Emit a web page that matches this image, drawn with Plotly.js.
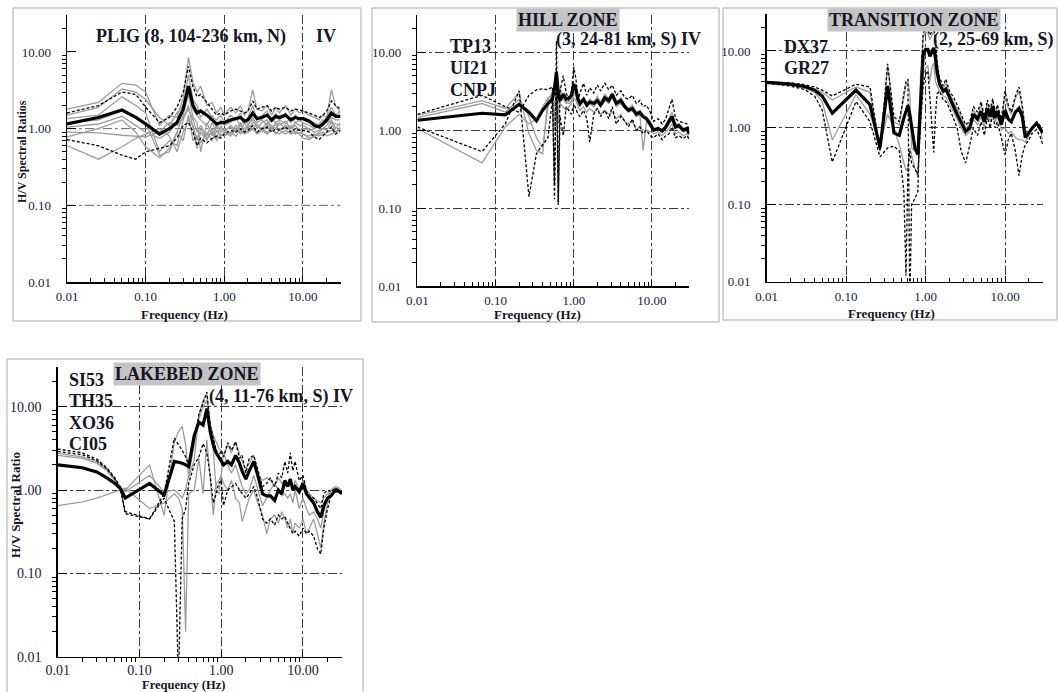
<!DOCTYPE html>
<html><head><meta charset="utf-8">
<script src="https://cdn.plot.ly/plotly-3.0.1.min.js"></script>
<style>html,body{margin:0;padding:0;background:#fff}#chart{width:1059px;height:692px}</style>
</head><body><div id="chart"></div><script>
// ---------------- DATA ----------------
// Panel 1: PLIG (8 events, 104-236 km, N)
const p1Freq = [0.01,0.025,0.05,0.075,0.1, 0.15,0.2,0.25,0.3,0.35, 0.4,0.45,0.5,0.6,0.7, 0.8,0.9,1.0,1.2,1.4, 1.6,1.8,2.0,2.3,2.6, 3.0,3.5,4.0,4.5,5, 6,7,8,9,10, 12,14,16,18,20, 23,26,30];
const p1Mean = [1.15,1.4,1.75,1.4,1.15, 0.85,1.0,1.2,1.8,3.6, 2.0,1.6,1.7,1.5,1.3, 1.15,1.2,1.2,1.3,1.35, 1.4,1.25,1.3,1.6,1.35, 1.4,1.5,1.3,1.45,1.4, 1.5,1.3,1.4,1.35,1.35, 1.25,1.1,1.05,1.15,1.3, 1.6,1.45,1.45];
const p1DashHi = [1.6,2.0,3.0,2.8,1.9, 1.2,1.4,1.9,3.0,6.5, 3.5,2.6,2.8,2.2,1.8, 1.5,1.6,1.5,1.7,1.8, 1.7,1.6,1.7,2.3,1.8, 1.9,2.0,1.7,1.9,1.8, 1.9,1.7,1.8,1.75,1.7, 1.6,1.5,1.4,1.5,1.7, 2.3,2.0,1.8];
const p1DashLo = [0.72,0.6,0.45,0.4,0.5, 0.55,0.6,0.75,1.1,1.2, 0.9,0.6,0.75,0.65,0.75, 0.8,0.75,0.85,0.95,0.9, 1.0,0.9,0.95,1.1,0.9, 1.0,1.05,0.9,1.0,0.95, 1.05,0.9,1.0,0.95,0.95, 0.9,0.78,0.72,0.8,0.9, 1.05,0.85,0.95];
const p1Gray1 = [1.8,2.2,3.9,3.7,3.0, 1.1,1.5,1.4,2.5,8.5, 4.0,3.0,3.6,2.0,2.2, 1.6,1.9,1.5,1.9,1.6, 2.0,1.5,1.7,3.2,1.8, 1.7,2.0,1.5,1.9,1.6, 2.0,1.5,1.8,1.6,1.7, 1.5,1.4,1.3,1.5,1.4, 3.2,2.0,1.6];
const p1Gray2 = [1.5,1.9,3.3,3.0,2.4, 1.4,1.1,1.6,2.0,5.0, 2.4,2.0,1.4,1.8,1.4, 1.3,1.5,1.2,1.5,1.3, 1.6,1.2,1.4,2.0,1.3, 1.5,1.7,1.2,1.6,1.3, 1.6,1.2,1.5,1.3,1.4, 1.3,1.2,1.1,1.2,1.4, 1.9,1.5,1.7];
const p1Gray3 = [1.35,1.5,2.6,2.0,1.6, 0.5,0.7,0.6,1.3,2.0, 1.0,0.55,0.9,0.7,1.0, 0.75,1.1,0.9,1.1,0.95, 1.2,0.9,1.1,1.4,1.0, 1.2,1.3,1.0,1.2,1.1, 1.25,1.0,1.2,1.1,1.1, 1.0,0.9,0.95,1.0,1.1, 1.3,1.0,1.2];
const p1Gray4 = [1.2,1.3,1.7,1.4,1.2, 0.45,0.5,0.9,1.5,2.8, 1.4,1.2,0.5,1.2,0.8, 1.1,0.9,1.0,0.85,1.1, 0.9,1.2,1.0,1.2,1.1, 1.0,1.2,1.1,1.0,1.2, 1.0,1.1,0.9,1.0,0.85, 0.75,0.8,0.9,1.0,0.95, 1.2,0.9,1.0];
const p1Gray5 = [1.05,1.15,1.45,1.1,0.9, 0.75,0.9,1.2,1.6,3.0, 1.8,1.5,1.3,1.1,1.5, 1.0,1.3,1.1,1.2,1.4, 1.1,1.3,1.15,1.3,1.2, 1.3,1.1,1.35,1.2,1.3, 1.15,1.4,1.2,1.3,1.2, 1.1,1.0,1.15,1.3,1.2, 1.4,1.3,1.3];
const p1Gray6 = [0.9,0.88,0.82,0.8,0.78, 0.9,1.2,1.1,1.4,1.8, 1.3,0.9,1.1,0.8,1.2, 0.9,1.0,0.95,1.05,0.9, 1.1,1.0,1.1,1.0,1.15, 0.95,1.1,1.0,1.15,0.95, 1.1,1.0,1.1,0.95,1.0, 0.95,1.0,1.1,1.2,1.25, 1.2,1.15,1.1];
const p1Gray7 = [0.78,1.0,1.3,0.9,0.58, 0.42,0.55,0.9,0.7,1.5, 0.7,0.8,0.65,0.9,0.7, 0.95,0.8,0.9,0.8,1.0, 0.85,0.95,0.9,1.0,0.85, 0.95,0.85,0.95,0.9,0.85, 0.95,0.85,0.9,0.85,0.75, 0.72,0.8,0.85,0.9,0.8, 0.85,0.9,1.0];
const p1Gray8 = [0.6,0.4,0.58,0.75,0.85, 1.0,0.8,0.5,0.9,1.3, 1.1,0.7,1.0,0.75,0.9, 0.7,0.85,0.8,0.9,0.8, 0.95,0.85,0.9,1.0,0.9, 1.0,0.9,1.0,0.85,0.95, 0.85,0.95,0.85,0.9,0.85, 0.8,0.85,0.8,0.85,0.9, 0.95,0.9,1.05];
const p1GridLevels = [1, 0.1];

// Panel 2: HILL ZONE (TP13, UI21, CNPJ)
const p2Freq = [0.01,0.067,0.133,0.2,0.267, 0.333,0.4,0.467,0.533,0.567, 0.6,0.633,0.667,0.733,0.8, 0.867,0.933,1.0,1.067,1.133, 1.2,1.333,1.467,1.6,1.8, 2.0,2.2,2.5,2.8,3.1, 3.5,4.0,4.5,5.0,5.6, 6.3,7.0,7.7,8.5,9.5, 10.5,12,13.5,15,16.5, 18,20,22,25,28, 30];
const p2Mean = [1.34,1.65,1.57,2.15,1.7, 1.32,1.8,2.2,2.5,3.5, 5.6,3.0,2.4,2.9,2.5, 2.6,2.8,3.9,3.3,2.5, 2.2,2.5,2.1,2.3,2.2, 2.4,2.1,2.6,2.4,2.9, 2.2,2.4,2.0,1.8,1.9, 1.6,1.7,1.5,1.4,1.2, 1.0,1.05,0.98,1.1,1.3, 1.5,1.1,1.15,1.0,1.05, 0.9];
const p2DashHi = [1.6,2.8,2.0,1.7,2.8, 3.3,3.4,3.3,3.6,0.13, 14,0.12,3.2,5.0,3.0, 2.4,3.0,6.5,4.5,2.4, 3.0,4.0,2.8,3.5,3.0, 3.8,3.2,4.0,3.3,3.8, 2.8,3.2,2.6,2.5,2.8, 2.2,2.4,2.0,2.1,1.7, 1.3,1.4,1.2,1.4,1.9, 2.5,1.4,1.3,1.25,1.2, 1.0];
const p2DashLo = [1.1,0.53,1.2,3.2,0.14, 0.5,0.65,0.8,2.5,0.2, 6.0,0.11,1.5,0.85,2.0, 1.8,1.6,2.2,1.9,1.6, 1.5,1.8,1.4,0.7,1.6, 1.9,1.5,1.8,1.4,2.0, 1.2,1.5,1.3,1.1,1.4, 1.0,1.1,0.9,1.0,0.85, 0.8,0.9,0.75,0.85,0.9, 1.1,0.8,0.85,0.78,0.85, 0.75];
const p2Gray1 = [1.55,2.4,1.9,3.0,0.9, 0.55,0.5,2.5,3.0,1.0, 4.5,1.2,3.5,2.5,2.2, 2.4,2.6,3.2,2.9,2.3, 2.0,2.6,2.2,2.5,2.3, 2.7,2.3,2.9,2.5,3.0, 2.3,2.6,2.1,1.9,2.1, 1.7,1.8,1.5,1.5,1.3, 1.05,1.1,1.0,1.15,1.4, 1.7,1.2,1.2,1.05,1.1, 0.95];
const p2Gray2 = [1.45,2.2,1.7,2.5,1.5, 0.8,0.6,2.0,3.2,2.0, 3.0,2.2,2.8,2.6,2.3, 2.2,2.4,3.0,2.7,2.2, 2.1,2.3,2.0,2.2,2.0, 2.3,2.0,2.4,2.2,2.6, 2.0,2.2,1.9,1.7,1.8, 1.5,1.6,0.55,1.3,1.1, 1.0,1.05,0.95,1.05,1.2, 1.35,1.05,1.1,0.95,1.0, 0.88];
const p2Gray3 = [1.05,0.38,1.1,1.6,1.2, 1.4,2.0,2.6,2.8,1.5, 2.5,1.8,2.2,2.0,1.8, 2.0,2.2,2.6,2.4,2.0, 1.8,2.0,1.7,1.9,1.7, 1.9,1.6,1.8,1.6,1.7, 1.4,1.6,1.3,1.2,1.3, 1.0,1.1,1.0,1.0,0.95, 0.9,0.95,0.85,0.95,1.05, 1.2,0.9,0.95,0.85,0.9, 0.8];

// Panel 3: TRANSITION ZONE (DX37, GR27)
const p3Freq = [0.01,0.02,0.03,0.04,0.05, 0.067,0.133,0.2,0.267,0.333, 0.4,0.467,0.533,0.567,0.6, 0.633,0.667,0.733,0.8,0.867, 0.933,1.0,1.067,1.133,1.2, 1.267,1.333,1.4,1.5,1.67, 1.8,2.0,2.2,2.5,2.8, 3.2,3.6,4.0,4.5,5.0, 5.5,6.0,6.5,7.0,7.5, 8.0,9.0,10,11,12, 13.5,15,16.5,18,20, 22,25,28,30];
const p3Mean = [3.9,3.7,3.45,3.1,2.6, 1.55,3.1,2.0,0.55,3.5, 0.86,0.8,1.35,1.7,1.95, 1.5,1.0,0.55,0.45,2.5, 9.0,10.5,10.5,8.5,10, 11,8.0,5.2,3.7,3.0, 3.2,2.45,2.0,1.5,1.2, 0.9,1.0,1.5,1.3,1.65, 1.2,1.8,1.4,1.9,1.35, 1.65,1.1,1.7,1.3,1.2, 1.6,1.8,1.4,0.75,0.86, 1.0,1.15,0.95,0.86];
const p3DashHi = [4.0,3.85,3.65,3.4,3.1, 2.6,3.7,3.4,0.5,6.8, 1.4,1.2,2.8,4.0,4.3, 0.005,0.1,0.12,0.15,3.0, 17,20,19,16,18, 20,15,7.0,4.5,3.5, 4.3,3.0,2.6,2.0,1.5, 1.1,1.2,1.9,1.6,2.2, 1.4,2.3,1.7,2.4,1.6, 2.0,1.3,3.0,2.0,1.6, 2.6,3.4,2.0,0.9,0.9, 1.0,1.2,1.05,1.05];
const p3DashLo = [3.8,3.5,3.15,2.6,1.7, 0.36,2.2,1.2,0.42,0.55, 0.58,0.5,0.15,0.012,0.3, 0.5,0.35,0.3,0.25,1.2, 3.5,5.0,5.5,2.5,0.9, 0.48,1.5,2.8,3.0,2.3, 2.2,1.8,1.4,1.0,0.5, 0.35,0.6,1.0,0.8,1.2, 0.8,1.4,1.0,1.5,1.0, 1.2,0.75,0.45,0.7,0.85, 0.5,0.24,0.45,0.6,0.7, 0.85,0.95,0.75,0.6];
const p3GrayHi = [3.95,3.75,3.5,3.2,2.9, 2.3,3.4,2.9,0.5,6.3, 1.2,1.1,2.5,3.6,4.0, 2.8,0.55,0.5,0.55,5.0, 15,18,17,14,16, 18,13,6.5,4.0,3.2, 3.8,2.8,2.3,1.8,1.4, 1.0,1.1,1.7,1.4,2.0, 1.3,2.1,1.6,2.2,1.5, 1.9,1.2,2.6,1.8,1.5, 2.4,3.0,1.8,0.85,0.88, 1.0,1.15,1.0,1.0];
const p3GrayLo = [3.85,3.6,3.3,2.9,2.2, 0.7,2.7,1.5,0.6,1.5, 1.0,0.6,0.35,0.28,0.3, 0.55,0.45,0.3,0.23,1.5, 5.0,6.0,6.5,4.0,6.0, 7.0,4.0,3.5,3.0,2.6, 2.5,2.0,1.7,1.3,1.0, 0.8,0.9,1.3,1.1,1.4, 1.0,1.6,1.2,1.7,1.2, 1.4,0.95,1.0,0.85,0.9, 0.75,0.7,0.7,0.65,0.8, 0.95,1.1,0.9,0.7];

// Panel 4: LAKEBED ZONE (SI53, TH35, XO36, CI05)
const p4Freq = [0.01,0.02,0.03,0.04,0.05, 0.058,0.067,0.133,0.2,0.267, 0.3,0.333,0.367,0.4,0.467, 0.533,0.6,0.667,0.733,0.8, 0.867,0.933,1.0,1.067,1.2, 1.333,1.5,1.67,1.8,2.0, 2.2,2.5,2.8,3.2,3.6, 4.0,4.5,5.0,5.5,6.0, 6.5,7.0,7.5,8.0,9.0, 10,11,12,13.5,15, 16.5,18,20,22,25, 28,30];
const p4Mean = [2.0,1.85,1.65,1.4,1.2, 1.05,0.8,1.2,0.87,2.2, 2.15,2.1,2.0,1.9,4.5, 6.5,6.0,9.5,5.0,3.5, 2.8,2.5,2.2,2.0,2.2, 2.0,2.6,2.1,1.7,1.35, 1.7,2.2,1.5,0.9,0.85, 0.85,0.75,1.0,0.9,1.3, 1.1,1.35,1.0,1.1,0.95, 1.2,0.9,0.8,0.7,0.55, 0.47,0.65,0.8,0.85,1.0, 0.95,0.9];
const p4DashHi = [3.1,2.8,2.35,1.85,1.4, 1.1,0.52,0.45,0.9,4.2, 3.5,3.0,2.5,2.0,4.0, 8.0,11,15,6.0,4.0, 3.0,2.5,3.0,2.5,3.7, 3.0,3.8,2.4,2.6,1.6, 2.4,2.6,1.8,1.1,1.2, 1.4,1.1,1.6,1.4,2.2, 1.6,2.8,1.7,2.2,1.3, 1.5,1.0,0.85,0.8,0.7, 0.6,0.9,1.0,0.95,1.05, 1.0,0.95];
const p4DashLo = [2.9,2.65,2.25,1.8,1.35, 1.05,0.55,0.45,0.8,0.42, 0.005,0.45,0.6,1.2,2.0, 2.5,3.6,2.8,1.5,0.7, 0.9,1.2,1.3,0.65,1.0, 1.1,1.2,1.0,0.9,0.8, 0.9,1.1,0.8,0.45,0.4, 0.45,0.38,0.5,0.45,0.48, 0.4,0.35,0.3,0.32,0.28, 0.35,0.3,0.32,0.28,0.2, 0.17,0.35,0.6,0.85,1.0, 0.95,0.9];
const p4Gray1 = [2.75,2.5,2.2,1.75,1.35, 1.05,1.0,2.0,0.5,3.8, 5.0,5.8,3.5,1.4,2.3, 8.0,12,14,6.0,4.5, 3.8,3.2,3.0,2.5,3.5, 2.8,3.8,2.8,2.2,1.8, 2.1,2.6,1.5,1.3,1.4, 1.3,1.1,1.4,1.2,1.3, 1.1,1.25,1.0,1.3,1.0, 1.3,1.0,0.9,0.8,0.75, 0.7,0.8,0.9,1.0,1.05, 1.0,0.95];
const p4Gray2 = [0.65,0.72,0.8,0.88,0.95, 1.0,1.05,0.6,0.7,0.9, 0.8,0.6,0.02,0.9,1.0, 2.4,0.9,4.0,1.5,0.5, 1.2,1.3,1.5,1.2,1.0, 1.3,0.8,0.7,0.42,0.6, 0.8,1.0,0.7,0.5,0.3, 0.45,0.5,0.4,0.55,0.45, 0.35,0.45,0.3,0.4,0.35, 0.45,0.3,0.35,0.45,0.3, 0.2,0.4,0.7,0.9,1.0, 1.0,0.9];
const p4Gray3 = [2.6,2.4,2.1,1.7,1.3, 1.05,0.95,1.5,0.95,1.0, 0.9,0.8,1.0,1.5,3.5, 7.0,10,12,5.0,3.0, 1.0,0.9,1.5,2.8,2.0, 1.6,2.0,1.4,1.1,0.9, 1.0,1.5,1.0,0.65,0.8, 1.0,1.2,1.0,0.85,0.9, 0.8,0.9,0.7,1.0,0.6, 0.8,0.6,0.5,0.55,0.45, 0.35,0.55,0.8,1.0,1.1, 1.05,0.95];

const tickVals = [0.01, 0.1, 1, 10];
const tickText = ['0.01', '0.10', '1.00', '10.00'];
const xTitle = 'Frequency (Hz)';

// ---------------- LAYOUT HELPERS ----------------
const W = 1059, H = 692;
const fx = px => px / W;
const fy = py => 1 - py / H;
const LOGMAX = Math.log10(30);
const SERIF = 'Liberation Serif, Times New Roman, serif';
const INK = '#1a1a36';

const minorVals = [];
for (let d = -2; d <= 1; d++) for (let k = 2; k <= 9; k++) { const v = k * Math.pow(10, d); if (v <= 30) minorVals.push(v); }

const panels = [
  {xs: 67, xe: 340.5, yt: 15.4, yb: 282, fs: 13, ygrid: false, xmin: 'inside', xso: 2},
  {xs: 417.4, xe: 689.3, yt: 15.1, yb: 286, fs: 13, ygrid: true, xmin: 'inside', xso: 2},
  {xs: 766.7, xe: 1042.9, yt: 14.3, yb: 281.7, fs: 13, ygrid: true, xmin: 'inside', xso: 2},
  {xs: 57.7, xe: 342, yt: 366.9, yb: 656.7, fs: 14, ygrid: true, xmin: 'outside', xso: 0}
];

const layout = {
  width: W, height: H, margin: {l: 0, r: 0, t: 0, b: 0},
  paper_bgcolor: '#fff', plot_bgcolor: 'rgba(0,0,0,0)',
  showlegend: false, hovermode: false,
  shapes: [], annotations: []
};

panels.forEach((p, i) => {
  const n = i === 0 ? '' : String(i + 1);
  layout['xaxis' + n] = {
    type: 'log', range: [-2, LOGMAX], domain: [fx(p.xs), fx(p.xe)], anchor: 'y' + n,
    showline: true, linecolor: '#000', linewidth: 1.5, mirror: false,
    ticks: 'inside', ticklen: 6, tickwidth: 1, tickcolor: '#000',
    tickmode: 'array', tickvals: tickVals, ticktext: tickText, ticklabelstandoff: p.xso,
    tickfont: {family: SERIF, size: p.fs, color: INK},
    showgrid: true, gridcolor: '#3a3a3a', griddash: 'dashdot', gridwidth: 1, zeroline: false,
    minor: {tickmode: 'array', tickvals: minorVals, ticks: p.xmin, ticklen: 4, tickwidth: 1, tickcolor: '#000', showgrid: false},
    fixedrange: true
  };
  layout['yaxis' + n] = {
    type: 'log', range: [-2, LOGMAX], domain: [fy(p.yb), fy(p.yt)], anchor: 'x' + n,
    showline: true, linecolor: '#000', linewidth: 1.5, mirror: false,
    ticks: 'inside', ticklen: 9, tickwidth: 1, tickcolor: '#000',
    tickmode: 'array', tickvals: tickVals, ticktext: tickText, ticklabelstandoff: 12,
    tickfont: {family: SERIF, size: p.fs, color: INK},
    showgrid: p.ygrid, gridcolor: '#3a3a3a', griddash: 'dashdot', gridwidth: 1, zeroline: false,
    minor: {tickmode: 'array', tickvals: minorVals, ticks: 'outside', ticklen: 4, tickwidth: 1, tickcolor: '#000', showgrid: false},
    fixedrange: true
  };
});

// panel frames
[[13, 8, 361, 321], [372, 8, 719, 322], [723, 8, 1057, 320], [7, 359, 363, 700]].forEach(r => {
  layout.shapes.push({type: 'rect', xref: 'paper', yref: 'paper', x0: fx(r[0]), x1: fx(r[2]), y0: fy(r[3]), y1: fy(r[1]),
    line: {color: '#a8a8a8', width: 1}, fillcolor: 'rgba(0,0,0,0)', layer: 'below'});
});

function txt(t, x, y, opt) {
  const o = Object.assign({size: 18, bold: true, xanchor: 'left', angle: 0, bg: null, color: '#151525'}, opt || {});
  const a = {text: o.bold ? '<b>' + t + '</b>' : t, xref: 'paper', yref: 'paper', x: fx(x), y: fy(y),
    xanchor: o.xanchor, yanchor: 'middle', showarrow: false, textangle: o.angle,
    font: {family: SERIF, size: o.size, color: o.color}};
  if (o.bg) { a.bgcolor = o.bg; a.borderpad = 1; }
  layout.annotations.push(a);
}
const BOX = '#c4c4c4';
// Panel 1 labels
txt('PLIG (8, 104-236 km, N)', 94, 36);
txt('IV', 314, 36);
txt(xTitle, 184, 314, {size: 13, xanchor: 'center'});
txt('H/V Spectral Ratios', 22, 152, {size: 12, xanchor: 'center', angle: -90});
// Panel 2 labels
txt('HILL ZONE', 568, 20, {xanchor: 'center', bg: BOX});
txt('(3, 24-81 km, S) IV', 554, 39);
txt('TP13', 448, 46); txt('UI21', 448, 68); txt('CNPJ', 448, 90);
txt(xTitle, 537, 314, {size: 13, xanchor: 'center'});
// Panel 3 labels
txt('TRANSITION ZONE', 914, 20, {xanchor: 'center', bg: BOX});
txt('(2, 25-69 km, S)', 931, 40);
txt('DX37', 782, 47); txt('GR27', 782, 68);
txt(xTitle, 891, 313, {size: 13, xanchor: 'center'});
// Panel 4 labels
txt('LAKEBED ZONE', 187, 374, {xanchor: 'center', bg: BOX});
txt('(4, 11-76 km, S) IV', 207, 397);
txt('SI53', 67, 380); txt('TH35', 67, 401); txt('XO36', 67, 423); txt('CI05', 67, 444);
txt(xTitle, 183, 684.5, {size: 12.5, xanchor: 'center'});
txt('H/V Spectral Ratio', 15, 505, {size: 13, xanchor: 'center', angle: -90});

// ---------------- TRACES ----------------
const STY = {
  mean: {color: '#000', width: 3.2},
  dash: {color: '#000', width: 1.3, dash: '3px,2px'},
  gray: {color: '#9c9c9c', width: 1.3},
  grid: {color: '#666', width: 1, dash: 'dashdot'}
};
function tr(x, y, n, kind) {
  return {type: 'scatter', mode: 'lines', x: x, y: y, xaxis: 'x' + n, yaxis: 'y' + n,
    line: STY[kind], hoverinfo: 'skip', showlegend: false};
}
const data = [];
p1GridLevels.forEach(v => data.push(tr([0.01, 30], [v, v], '', 'grid')));
[p1Gray1, p1Gray2, p1Gray3, p1Gray4, p1Gray5, p1Gray6, p1Gray7, p1Gray8].forEach(s => data.push(tr(p1Freq, s, '', 'gray')));
[p1DashHi, p1DashLo].forEach(s => data.push(tr(p1Freq, s, '', 'dash')));
data.push(tr(p1Freq, p1Mean, '', 'mean'));

[p2Gray1, p2Gray2, p2Gray3].forEach(s => data.push(tr(p2Freq, s, '2', 'gray')));
[p2DashHi, p2DashLo].forEach(s => data.push(tr(p2Freq, s, '2', 'dash')));
data.push(tr(p2Freq, p2Mean, '2', 'mean'));

[p3GrayHi, p3GrayLo].forEach(s => data.push(tr(p3Freq, s, '3', 'gray')));
[p3DashHi, p3DashLo].forEach(s => data.push(tr(p3Freq, s, '3', 'dash')));
data.push(tr(p3Freq, p3Mean, '3', 'mean'));

[p4Gray1, p4Gray2, p4Gray3].forEach(s => data.push(tr(p4Freq, s, '4', 'gray')));
[p4DashHi, p4DashLo].forEach(s => data.push(tr(p4Freq, s, '4', 'dash')));
data.push(tr(p4Freq, p4Mean, '4', 'mean'));

Plotly.newPlot('chart', data, layout, {staticPlot: true, displayModeBar: false});
</script></body></html>
